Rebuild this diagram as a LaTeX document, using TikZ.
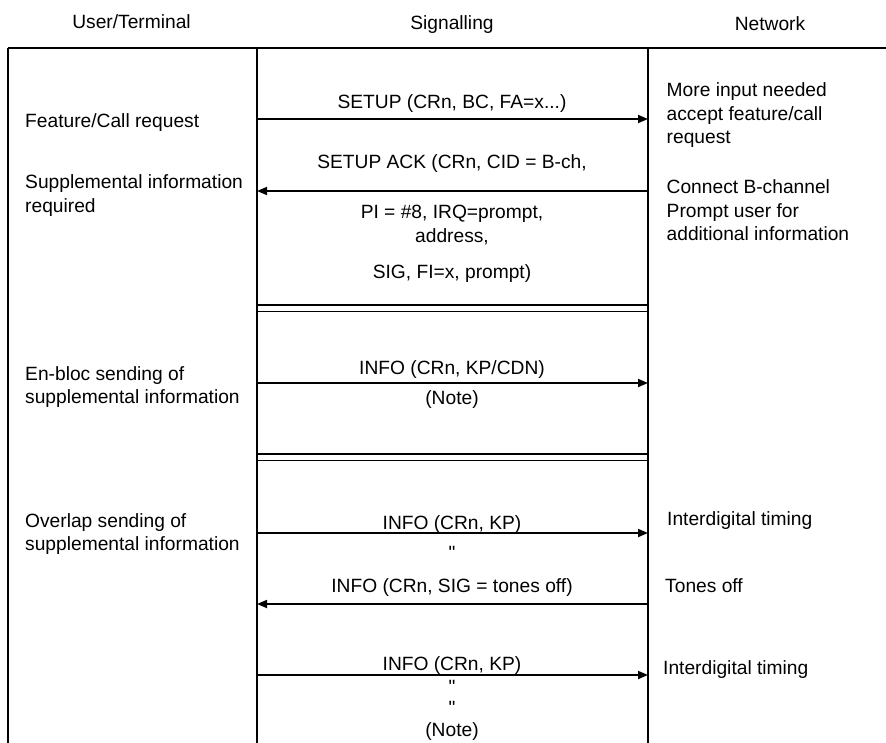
\documentclass[tikz,border=0pt]{standalone}
\usepackage{fontspec}
\setmainfont{Liberation Sans}
% same face without TeX quote mapping, for straight ditto marks
\newfontfamily\dittofont[Ligatures=Common]{Liberation Sans}
\usetikzlibrary{arrows.meta}

\newcommand{\dittomark}{{\dittofont\symbol{"22}}}

\begin{document}
\begin{tikzpicture}[x=1pt,y=-1pt,
  txt/.style={inner sep=0pt,font=\fontsize{19.2}{23.4}\selectfont},
  lbl/.style={txt,anchor=base west,align=left},
  msglbl/.style={txt,anchor=base,align=center},
  hdr/.style={txt,anchor=base},
  lane/.style={line width=2pt},
  sep/.style={line width=1.7pt},
  msg/.style={line width=1.7pt,-{Triangle[length=10pt,width=8pt]}}]

\useasboundingbox (0,0) rectangle (886,743);

% column headings
\node[hdr] (hu) at (131.5,28.5) {User/Terminal};
\node[hdr] (hs) at (452,29.5) {Signalling};
\node[hdr] (hn) at (770,31) {Network};

% frame and lanes
\coordinate (tl) at (7.5,48);
\coordinate (tr) at (886,48);
\coordinate (bl) at (7.5,743);
\coordinate (ut) at (257,48);
\coordinate (ub) at (257,743);
\coordinate (nt) at (648,48);
\coordinate (nb) at (648,743);
\draw[lane] (tl) -- (tr);
\draw[lane] (tl) -- (bl);
\draw[lane] (ut) -- (ub);
\draw[lane] (nt) -- (nb);

% phase separators
\foreach \y in {305,311.5,454,460.5}
  \draw[sep] (257,\y) -- (648,\y);

% user side (base anchor sits on the last line)
\node[lbl] (u1) at (25,128) {Feature/Call request};
\node[lbl] (u2) at (25,212.4) {Supplemental information\\required};
\node[lbl] (u3) at (25,403.4) {En-bloc sending of\\supplemental information};
\node[lbl] (u4) at (25,550.4) {Overlap sending of\\supplemental information};

% network side
\node[lbl] (n1) at (666.5,143.8) {More input needed\\accept feature/call\\request};
\node[lbl] (n2) at (666.5,240.8) {Connect B-channel\\Prompt user for\\additional information};
\node[lbl] (n3) at (667,525) {Interdigital timing};
\node[lbl] (n4) at (665,592) {Tones off};
\node[lbl] (n5) at (663,674) {Interdigital timing};

% message end points
\coordinate (a1) at (257,119);   \coordinate (b1) at (648,119);
\coordinate (a2) at (257,191);   \coordinate (b2) at (648,191);
\coordinate (a3) at (257,383);   \coordinate (b3) at (648,383);
\coordinate (a4) at (257,533);   \coordinate (b4) at (648,533);
\coordinate (a5) at (257,604);   \coordinate (b5) at (648,604);
\coordinate (a6) at (257,675);   \coordinate (b6) at (648,675);

\draw[msg] (a1) -- (b1);
\draw[msg] (b2) -- (a2);
\draw[msg] (a3) -- (b3);
\draw[msg] (a4) -- (b4);
\draw[msg] (b5) -- (a5);
\draw[msg] (a6) -- (b6);

% message labels
\node[msglbl] (m1) at (452,109) {SETUP (CRn, BC, FA=x...)};
\node[msglbl] (m2) at (452,169) {SETUP ACK (CRn, CID = B-ch,};
\node[msglbl] (m3) at (452,219) {PI = \#8, IRQ=prompt,};
\node[msglbl] (m4) at (452,243) {address,};
\node[msglbl] (m5) at (452,279) {SIG, FI=x, prompt)};
\node[msglbl] (m6) at (452,374) {INFO (CRn, KP/CDN)};
\node[msglbl] (m7) at (452,404) {(Note)};
\node[msglbl] (m8) at (452,529) {INFO (CRn, KP)};
\node[msglbl] (m9) at (452,559) {\dittomark};
\node[msglbl] (m10) at (452,592) {INFO (CRn, SIG = tones off)};
\node[msglbl] (m11) at (452,670) {INFO (CRn, KP)};
\node[msglbl] (m12) at (452,693) {\dittomark};
\node[msglbl] (m13) at (452,714.5) {\dittomark};
\node[msglbl] (m14) at (452,736.5) {(Note)};
\end{tikzpicture}
\end{document}
